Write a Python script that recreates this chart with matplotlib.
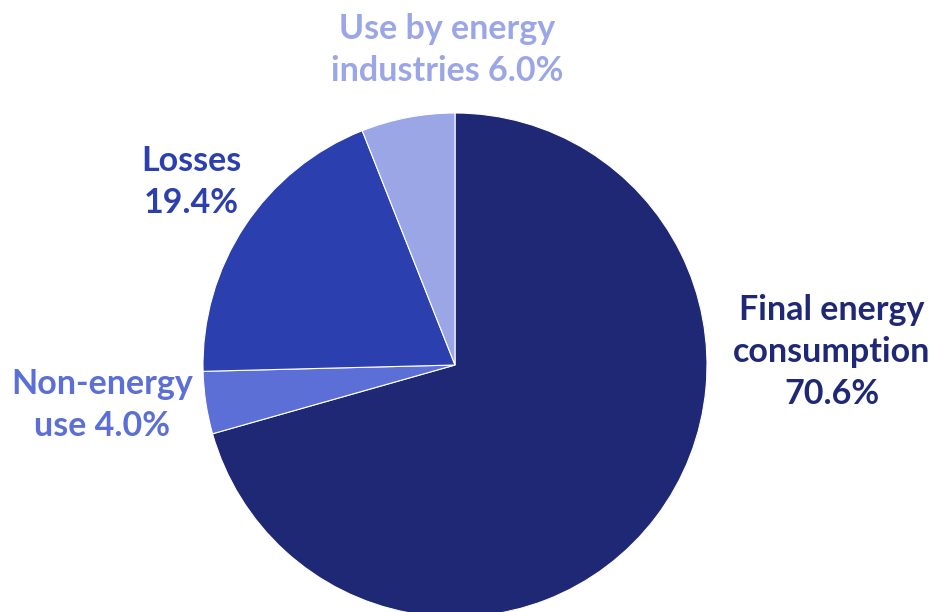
import matplotlib
matplotlib.use("Agg")
import matplotlib.pyplot as plt

categories = ["Final energy\nconsumption\n70.6%", "Non-energy\nuse 4.0%", "Losses\n19.4%", "Use by energy\nindustries 6.0%"]
values = [70.6, 4.0, 19.4, 6.0]
colors = ["#1f2874", "#5b6fd6", "#2b3fae", "#9ba6e6"]
label_pos = [(832, 260), (102, 207), (191, 430), (447, 562)]

fig = plt.figure(figsize=(9.36, 6.12), dpi=100)
ax = fig.add_axes([0, 0, 1, 1])
ax.pie(values, colors=colors, startangle=90, counterclock=False,
       center=(455, 247), radius=252,
       wedgeprops=dict(linewidth=0.8, edgecolor="white"))
ax.set_xlim(0, 936)
ax.set_ylim(0, 612)
ax.set_aspect("equal")
ax.axis("off")
for lab, (x, y), c in zip(categories, label_pos, colors):
    ax.text(x, y, lab, ha="center", va="center", color=c, fontsize=24.5,
            fontweight="bold", family=["Lato", "DejaVu Sans"], linespacing=1.38)
fig.savefig("out.png", dpi=100)
